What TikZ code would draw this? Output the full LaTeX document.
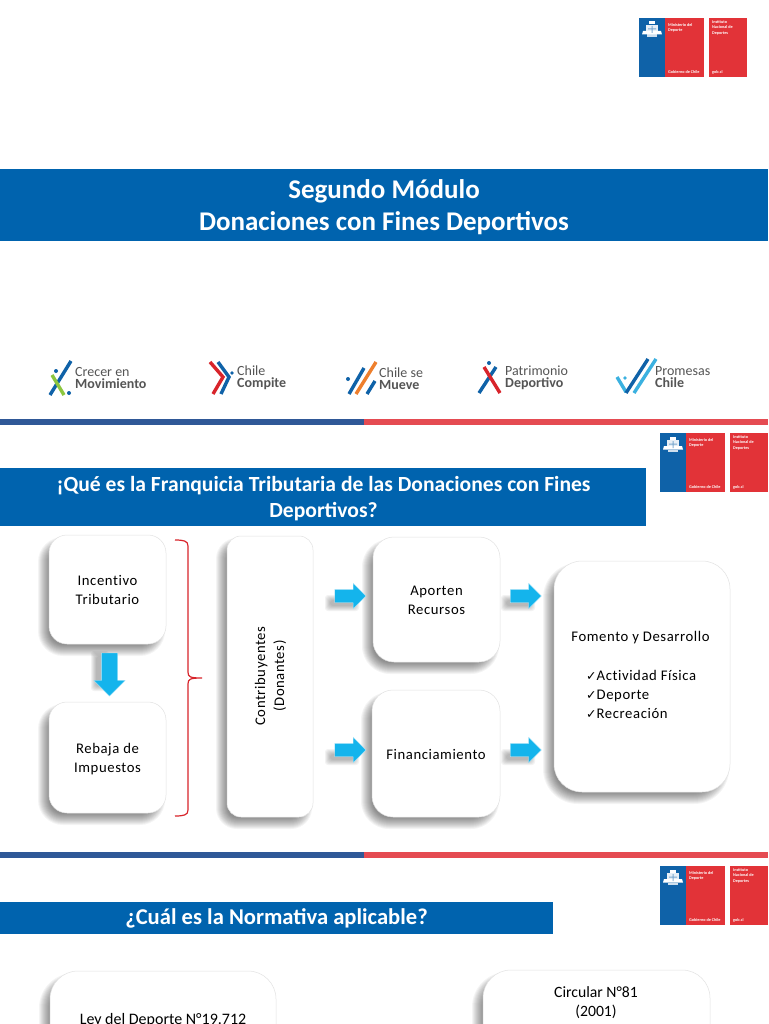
\documentclass[tikz,border=0pt]{standalone}
\usepackage{fontspec}
\setmainfont{Carlito}
\newfontfamily\bodyfont[LetterSpace=4,Ligatures=NoCommon]{Carlito}
\newfontfamily\symfont{DejaVu Sans}
\usetikzlibrary{shapes.arrows,calc}
\definecolor{band}{HTML}{0063AE}
\definecolor{skyarrow}{HTML}{14B4EC}
\definecolor{bluestripe}{HTML}{2F5897}
\definecolor{redstripe}{HTML}{E54B52}
\definecolor{logoblue}{HTML}{0F62A8}
\definecolor{logored}{HTML}{E23338}
\definecolor{bracered}{HTML}{D8242B}
\definecolor{logotext}{HTML}{555555}
\definecolor{loggreen}{HTML}{8CC63F}
\definecolor{logorange}{HTML}{EE7F2D}
\definecolor{logolight}{HTML}{3BB1E0}
\definecolor{boxedge}{HTML}{E2E2E2}
\tikzset{
  x=1pt,y=-1pt,
  bandtext/.style={font=\bfseries\fontsize{27}{32}\selectfont,text=white,align=center,inner sep=0},
  bandmid/.style={font=\bfseries\fontsize{21.6}{26.5}\selectfont,text=white,align=center,inner sep=0},
  bandsmall/.style={font=\bfseries\fontsize{22.6}{27}\selectfont,text=white,align=center,inner sep=0},
  boxlabel/.style={font=\bodyfont\fontsize{14.7}{19}\selectfont,text=black,align=center,inner sep=0},
  softbox/.style={draw=boxedge,line width=.5pt,fill=white,inner sep=0},
  blockarrow/.style={shape=single arrow,fill=skyarrow,draw=white!70!skyarrow,line width=.3pt,inner sep=0,
    single arrow head extend=6pt,single arrow head indent=0pt,text height=13pt,text depth=0pt,text width=1pt,minimum height=31pt},
  stroke/.style={line width=3.4pt,line cap=butt},
  logoname/.style={font=\fontsize{14}{12}\selectfont,text=logotext,align=left,inner sep=0,anchor=west},
  tinymin/.style={font=\bfseries\fontsize{4.2}{5.5}\selectfont,text=white,align=left,inner sep=0,anchor=north west},
}
% soft shadow: x1 y1 x2 y2 radius
\newcommand{\softshadow}[5]{%
  \foreach \d in {-6,-5,...,5}{%
    \fill[black,opacity=.045,rounded corners={(#5+\d)*1pt+2pt}]
      (#1-6-\d,#2+7-\d) rectangle (#3-6+\d,#4+7+\d);
  }}
% faint shadow behind a block arrow: x1 y1 x2 y2
\newcommand{\arrowshadow}[4]{%
  \foreach \d in {0,1,...,5}{%
    \fill[black,opacity=.05,rounded corners=3pt]
      (#1-\d,#2-\d) rectangle (#3+\d,#4+\d);
  }}
% box: name x1 y1 x2 y2 radius
\newcommand{\softnode}[6]{%
  \softshadow{#2}{#3}{#4}{#5}{#6}%
  \node[softbox,rounded corners=#6pt,minimum width=#4pt-#2pt,minimum height=#5pt-#3pt]
    (#1) at ({(#2+#4)/2},{(#3+#5)/2}) {};
}
% ministry logo: x of left edge, y of top
\newcommand{\ministry}[2]{%
  \begin{scope}[shift={(#1,#2)}]
    \fill[logoblue] (0,0) rectangle (26,59);
    \fill[logored] (26,0) rectangle (65,59);
    \fill[logored] (69.5,0) rectangle (108,59);
    \fill[white] (10,3.5) rectangle (16,6.5);
    \fill[white,opacity=.9] (7,7) rectangle (19,15);
    \fill[white] (4,13) -- (22,13) -- (23,16.5) -- (3,16.5) -- cycle;
    \fill[white,opacity=.8] (8,16.5) rectangle (18,19);
    \fill[logoblue,opacity=.5] (12.5,8) rectangle (13.5,15) (9,10.5) rectangle (17,11.5);
    \node[tinymin] at (29,5) {Ministerio del\\Deporte};
    \node[tinymin] at (29,52.5) {Gobierno de Chile};
    \node[tinymin] at (73,2) {Instituto\\Nacional de\\Deportes};
    \node[tinymin] at (73,52.5) {gob.cl};
  \end{scope}}
\begin{document}
\begin{tikzpicture}
\useasboundingbox (0,0) rectangle (768,1024);
\clip (0,0) rectangle (768,1024);
\fill[white] (0,0) rectangle (768,1024);

\ministry{639}{18}
\ministry{660}{433}
\ministry{660}{866}

% bands
\fill[band] (0,169) rectangle (768,241);
\node[bandtext] (t1) at (384,207) {Segundo Módulo\\Donaciones con Fines Deportivos};
\fill[band] (0,468) rectangle (646,526);
\node[bandmid] (t2) at (323.5,498.5)
  {¡Qué es la Franquicia Tributaria de las Donaciones con Fines\\Deportivos?};
\fill[band] (0,902) rectangle (553,934);
\node[bandsmall] (t3) at (276.5,918.5) {¿Cuál es la Normativa aplicable?};

% stripes
\foreach \yy in {419,852}{
  \fill[bluestripe] (0,\yy) rectangle (364,\yy+6);
  \fill[redstripe] (364,\yy) rectangle (768,\yy+6);
}

% programme logos
\draw[stroke,logoblue] (50,395) -- (71,361);
\draw[stroke,loggreen] (52,375) -- (64,395);
\fill[logoblue] (56,371) circle (2) (69,393) circle (2);
\node[logoname] (l1) at (75,378) {Crecer en\\\textbf{Movimiento}};

\draw[stroke,bracered] (210,362) -- (223,377) -- (213,394);
\draw[stroke,logoblue] (218,362) -- (229,377) -- (221,394);
\fill[logoblue] (232,373) circle (1.8);
\node[logoname] (l2) at (237,378) {Chile\\\textbf{Compite}};

\fill[logoblue] (348,379) circle (2);
\draw[stroke,logoblue] (349,394) -- (364,368);
\draw[stroke,logorange] (356,394) -- (376,362);
\draw[stroke,logoblue] (367,394) -- (375,381);
\node[logoname] (l3) at (379,379) {Chile se\\\textbf{Mueve}};

\fill[logoblue] (489,363) circle (2);
\draw[stroke,logoblue] (479,393) -- (496,367);
\draw[stroke,bracered] (484,367) -- (500,393);
\node[logoname] (l4) at (505,378) {Patrimonio\\\textbf{Deportivo}};

\draw[stroke,logolight] (617,377) -- (626,392);
\draw[stroke,logoblue] (626,393) -- (648,359);
\draw[stroke,logolight] (634,393) -- (656,359);
\fill[logolight] (625,378) circle (1.8);
\node[logoname] (l5) at (655,377) {Promesas\\\textbf{Chile}};

% boxes
\softnode{incentivo}{49}{535}{166}{644}{18}
\softnode{rebaja}{49}{702}{166}{813}{18}
\softnode{contrib}{227}{536}{313}{817}{14}
\softnode{aporten}{373}{537}{500}{662}{21}
\softnode{financ}{372}{690}{500}{817}{21}
\softnode{fomento}{554}{561}{730}{792}{28}
\softnode{ley}{50}{971}{276}{1090}{28}
\softnode{circular}{483}{970}{710}{1090}{28}

\node[boxlabel] at (incentivo) {Incentivo\\Tributario};
\node[boxlabel] at ($(rebaja)+(0,2)$) {Rebaja de\\Impuestos};
\node[boxlabel,rotate=90] at (270.5,676) {Contribuyentes\\(Donantes)};
\node[boxlabel] at ($(aporten)+(0,1)$) {Aporten\\Recursos};
\node[boxlabel] at ($(financ)+(0,1)$) {Financiamiento};
\node[boxlabel] (fomtitle) at (640.5,638) {Fomento y Desarrollo};
\node[font=\bodyfont\fontsize{14.7}{19}\selectfont,align=left,inner sep=0,anchor=north west] (fomlist) at (586,670.5)
  {{\symfont\fontsize{12.5}{19}\selectfont ✓}Actividad Física\\
   {\symfont\fontsize{12.5}{19}\selectfont ✓}Deporte\\
   {\symfont\fontsize{12.5}{19}\selectfont ✓}Recreación};
\node[font=\fontsize{16}{19}\selectfont,inner sep=0,anchor=base] (leytext) at (163,1024) {Ley del Deporte N°19.712};
\node[font=\fontsize{15.7}{19}\selectfont,align=center,inner sep=0] (circtext) at (596,1003) {Circular N°81\\(2001)};

% brace
\draw[bracered,line width=1.2pt] (175,540) .. controls (184,540) and (188,541) .. (188,546)
  -- (188,672) .. controls (188,677) and (190,678) .. (202,678)
  .. controls (190,678) and (188,679) .. (188,684)
  -- (188,810) .. controls (188,815) and (184,816) .. (175,816);

% block arrows
\arrowshadow{330}{600}{354}{606}
\arrowshadow{330}{754}{354}{760}
\arrowshadow{506}{600}{530}{606}
\arrowshadow{506}{754}{530}{760}
\arrowshadow{96}{656}{104}{686}
\node[blockarrow] (a1) at (347,596) {};
\node[blockarrow] (a2) at (347,750) {};
\node[blockarrow] (a3) at (522.5,596) {};
\node[blockarrow] (a4) at (522.5,750) {};
\node[blockarrow,rotate=-90,minimum height=43pt,text height=16pt,single arrow head extend=7.5pt] (a5) at (109.5,670.5) {};
\end{tikzpicture}
\end{document}
